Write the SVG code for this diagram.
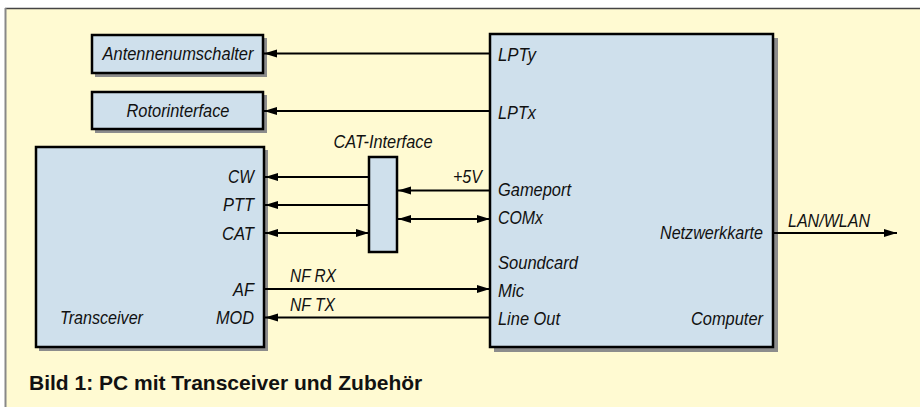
<svg xmlns="http://www.w3.org/2000/svg" width="920" height="407" viewBox="0 0 920 407">
<defs>
<style>
.bg{fill:#fffad2}
.box{fill:#cfe0ec;stroke:#000;stroke-width:2.5}
.sh{fill:#8c8c8c}
.ln{stroke:#000;stroke-width:1.8;fill:none}
.t{font-family:"Liberation Sans",Arial,sans-serif;font-style:italic;font-size:18px;fill:#111}
.e{text-anchor:end}
.m{text-anchor:middle}
.cap{font-family:"Liberation Sans",Arial,sans-serif;font-weight:bold;font-size:21px;fill:#111}
</style>
<marker id="ah" markerUnits="userSpaceOnUse" markerWidth="14" markerHeight="9" refX="13" refY="4" orient="auto-start-reverse" viewBox="0 0 14 9">
<path d="M0,0 L13,4 L0,8 z" fill="#000"/>
</marker>
</defs>
<rect width="920" height="407" fill="#fff"/>
<rect class="bg" x="5" y="8" width="915" height="399"/>
<line x1="5" y1="8.5" x2="920" y2="8.5" stroke="#444" stroke-width="1.5"/>
<line x1="5.5" y1="8" x2="5.5" y2="407" stroke="#888" stroke-width="2"/>

<g id="antennenumschalter">
<rect class="sh" x="95" y="38" width="172" height="39"/>
<rect class="box" x="92" y="35" width="171" height="38"/>
<text class="t m" x="178" y="60" textLength="151" lengthAdjust="spacingAndGlyphs">Antennenumschalter</text>
</g>
<g id="rotorinterface">
<rect class="sh" x="95" y="95" width="172" height="38"/>
<rect class="box" x="92" y="92" width="171" height="37"/>
<text class="t m" x="178" y="117" textLength="103" lengthAdjust="spacingAndGlyphs">Rotorinterface</text>
</g>
<g id="transceiver">
<rect class="sh" x="39" y="150" width="229" height="201"/>
<rect class="box" x="36" y="147" width="228" height="200"/>
<text class="t e" x="254" y="183" textLength="26" lengthAdjust="spacingAndGlyphs">CW</text>
<text class="t e" x="254" y="211" textLength="31" lengthAdjust="spacingAndGlyphs">PTT</text>
<text class="t e" x="254" y="240" textLength="32" lengthAdjust="spacingAndGlyphs">CAT</text>
<text class="t e" x="254" y="296" textLength="21" lengthAdjust="spacingAndGlyphs">AF</text>
<text class="t e" x="254" y="324" textLength="38" lengthAdjust="spacingAndGlyphs">MOD</text>
<text class="t" x="60" y="324" textLength="83" lengthAdjust="spacingAndGlyphs">Transceiver</text>
</g>
<g id="cat-interface">
<rect class="box" x="369" y="157" width="28" height="95"/>
<text class="t m" x="383" y="148" textLength="99" lengthAdjust="spacingAndGlyphs">CAT-Interface</text>
</g>
<g id="computer">
<rect class="sh" x="494" y="38" width="284" height="314"/>
<rect class="box" x="490" y="34" width="283" height="313"/>
<text class="t" x="498" y="61" textLength="38" lengthAdjust="spacingAndGlyphs">LPTy</text>
<text class="t" x="498" y="119" textLength="38" lengthAdjust="spacingAndGlyphs">LPTx</text>
<text class="t" x="498" y="196" textLength="73" lengthAdjust="spacingAndGlyphs">Gameport</text>
<text class="t" x="498" y="224" textLength="45" lengthAdjust="spacingAndGlyphs">COMx</text>
<text class="t e" x="763" y="239" textLength="103" lengthAdjust="spacingAndGlyphs">Netzwerkkarte</text>
<text class="t" x="498" y="269" textLength="80" lengthAdjust="spacingAndGlyphs">Soundcard</text>
<text class="t" x="498" y="297" textLength="26" lengthAdjust="spacingAndGlyphs">Mic</text>
<text class="t" x="498" y="325" textLength="62" lengthAdjust="spacingAndGlyphs">Line Out</text>
<text class="t e" x="763" y="325" textLength="72" lengthAdjust="spacingAndGlyphs">Computer</text>
</g>

<g id="connectors">
<line class="ln" x1="490" y1="53.5" x2="264" y2="53.5" marker-end="url(#ah)"/>
<line class="ln" x1="490" y1="111" x2="264" y2="111" marker-end="url(#ah)"/>
<line class="ln" x1="369" y1="177" x2="265" y2="177" marker-end="url(#ah)"/>
<line class="ln" x1="369" y1="205" x2="265" y2="205" marker-end="url(#ah)"/>
<line class="ln" x1="265" y1="233" x2="369" y2="233" marker-start="url(#ah)" marker-end="url(#ah)"/>
<line class="ln" x1="490" y1="190.5" x2="398" y2="190.5" marker-end="url(#ah)"/>
<line class="ln" x1="398" y1="219" x2="490" y2="219" marker-start="url(#ah)" marker-end="url(#ah)"/>
<line class="ln" x1="265" y1="289" x2="490" y2="289" marker-end="url(#ah)"/>
<line class="ln" x1="490" y1="317.5" x2="265" y2="317.5" marker-end="url(#ah)"/>
<line class="ln" x1="774" y1="233" x2="897" y2="233" marker-end="url(#ah)"/>
<text class="t e" x="482" y="183" textLength="29" lengthAdjust="spacingAndGlyphs">+5V</text>
<text class="t" x="290" y="282" textLength="46" lengthAdjust="spacingAndGlyphs">NF RX</text>
<text class="t" x="290" y="311" textLength="45" lengthAdjust="spacingAndGlyphs">NF TX</text>
<text class="t" x="788" y="227" textLength="82" lengthAdjust="spacingAndGlyphs">LAN/WLAN</text>
</g>

<text class="cap" x="29" y="390">Bild 1: PC mit Transceiver und Zubehör</text>
</svg>
